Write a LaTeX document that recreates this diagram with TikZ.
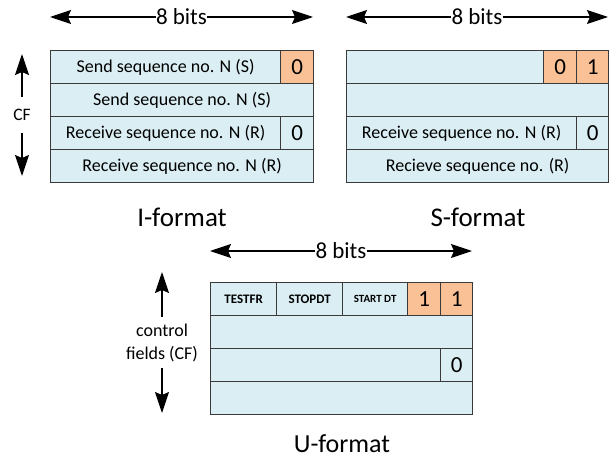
\documentclass[tikz,border=0pt]{standalone}
\usepackage{fontspec}
\setmainfont{Carlito}
\usepackage{tikz}
\usetikzlibrary{arrows.meta}
\usetikzlibrary{positioning}
\definecolor{cellblue}{HTML}{DAEEF3}
\definecolor{bitorange}{HTML}{F9C195}
\definecolor{edgegray}{HTML}{3A3A3A}

\begin{document}
\begin{tikzpicture}[x=1pt, y=-1pt,
    cell/.style={draw=edgegray, fill=cellblue, line width=1.3pt, minimum height=33pt,
      inner sep=0pt, anchor=north west, font=\fontsize{18}{20}\selectfont},
    bit/.style={cell, font=\fontsize{23}{25}\selectfont},
    setbit/.style={bit, fill=bitorange},
    flag/.style={cell, font=\bfseries\fontsize{13}{15}\selectfont},
    arr/.style={-{Stealth[length=21pt, width=14pt, inset=3pt]}, line width=1.4pt},
    bits/.style={inner sep=0pt, fill=white, font=\fontsize{23}{25}\selectfont},
    title/.style={inner sep=0pt, font=\fontsize{27}{30}\selectfont}]
  \useasboundingbox (0, 0) rectangle (612, 460);

  % I-format
  \node [cell, minimum width=230pt] (i1) at (50, 50) {Send sequence no. N (S)};
  \node [setbit, minimum width=33pt] (i1b) at (280, 50) {0};
  \node [cell, minimum width=263pt] (i2) at (50, 83) {Send sequence no. N (S)};
  \node [cell, minimum width=230pt] (i3) at (50, 116) {Receive sequence no. N (R)};
  \node [bit, minimum width=33pt] (i3b) at (280, 116) {0};
  \node [cell, minimum width=263pt] (i4) at (50, 149) {Receive sequence no. N (R)};
  \node [title] (ititle) at (182, 217) {I-format};

  \node [bits] (ibits) at (181.5, 17) {8 bits};
  \coordinate (iL) at (50, 17);
  \coordinate (iR) at (313, 17);
  \draw [arr] (ibits) -- (iL);
  \draw [arr] (ibits) -- (iR);

  \node [minimum height=36pt, inner sep=0pt, font=\fontsize{17.5}{19}\selectfont] (cf) at (22, 115) {CF};
  \coordinate (cfT) at (22, 54);
  \coordinate (cfB) at (22, 176);
  \draw [arr] (cf) -- (cfT);
  \draw [arr] (cf) -- (cfB);

  % S-format
  \node [cell, minimum width=197pt] (s1) at (346, 50) {};
  \node [setbit, minimum width=33pt] (s1b) at (543, 50) {0};
  \node [setbit, minimum width=32pt] (s1c) at (576, 50) {1};
  \node [cell, minimum width=262pt] (s2) at (346, 83) {};
  \node [cell, minimum width=230pt] (s3) at (346, 116) {Receive sequence no. N (R)};
  \node [bit, minimum width=32pt] (s3b) at (576, 116) {0};
  \node [cell, minimum width=262pt] (s4) at (346, 149) {Recieve sequence no. (R)};
  \node [title] (stitle) at (478, 217) {S-format};

  \node [bits] (sbits) at (477, 17) {8 bits};
  \coordinate (sL) at (346, 17);
  \coordinate (sR) at (608, 17);
  \draw [arr] (sbits) -- (sL);
  \draw [arr] (sbits) -- (sR);

  % U-format
  \node [flag, minimum width=66pt] (u1) at (210, 282) {TESTFR};
  \node [flag, minimum width=66pt] (u1b) at (276, 282) {STOPDT};
  \node [flag, minimum width=65pt, font=\bfseries\fontsize{11}{13}\selectfont] (u1c) at (342, 282) {START DT};
  \node [setbit, minimum width=33pt] (u1d) at (407, 282) {1};
  \node [setbit, minimum width=32pt] (u1e) at (440, 282) {1};
  \node [cell, minimum width=262pt] (u2) at (210, 315) {};
  \node [cell, minimum width=230pt] (u3) at (210, 348) {};
  \node [bit, minimum width=32pt] (u3b) at (440, 348) {0};
  \node [cell, minimum width=262pt] (u4) at (210, 381) {};
  \node [title, font=\fontsize{26}{28}\selectfont] (utitle) at (342, 444) {U-format};

  \node [bits] (ubits) at (341, 251) {8 bits};
  \coordinate (uL) at (210, 251);
  \coordinate (uR) at (472, 251);
  \draw [arr] (ubits) -- (uL);
  \draw [arr] (ubits) -- (uR);

  \node [minimum height=51pt, inner sep=0pt, align=center,
    font=\fontsize{18}{23}\selectfont] (ucf) at (162, 342.5) {control\\fields (CF)};
  \coordinate (ucfT) at (162, 272);
  \coordinate (ucfB) at (162, 413);
  \draw [arr] (ucf) -- (ucfT);
  \draw [arr] (ucf) -- (ucfB);
\end{tikzpicture}
\end{document}
